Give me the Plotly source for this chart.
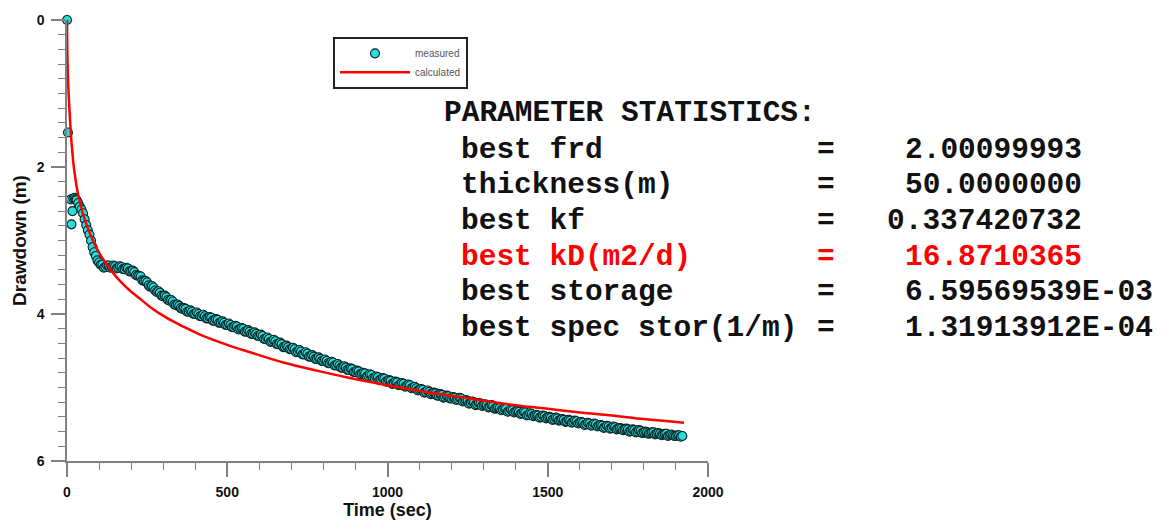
import plotly.graph_objects as go

# ---------------- data ----------------
meas_time = [0, 3, 12, 14, 17, 20, 24, 27,
    30, 40, 50, 60, 70, 80, 90, 100,
    110, 120, 130, 140, 150, 160, 170, 180, 190, 200,
    210, 220, 230, 240, 250, 260, 270, 280, 290, 300,
    310, 320, 330, 340, 350, 360, 370, 380, 390, 400,
    410, 420, 430, 440, 450, 460, 470, 480, 490, 500,
    510, 520, 530, 540, 550, 560, 570, 580, 590, 600,
    610, 620, 630, 640, 650, 660, 670, 680, 690, 700,
    710, 720, 730, 740, 750, 760, 770, 780, 790, 800,
    810, 820, 830, 840, 850, 860, 870, 880, 890, 900,
    910, 920, 930, 940, 950, 960, 970, 980, 990, 1000,
    1010, 1020, 1030, 1040, 1050, 1060, 1070, 1080, 1090, 1100,
    1110, 1120, 1130, 1140, 1150, 1160, 1170, 1180, 1190, 1200,
    1210, 1220, 1230, 1240, 1250, 1260, 1270, 1280, 1290, 1300,
    1310, 1320, 1330, 1340, 1350, 1360, 1370, 1380, 1390, 1400,
    1410, 1420, 1430, 1440, 1450, 1460, 1470, 1480, 1490, 1500,
    1510, 1520, 1530, 1540, 1550, 1560, 1570, 1580, 1590, 1600,
    1610, 1620, 1630, 1640, 1650, 1660, 1670, 1680, 1690, 1700,
    1710, 1720, 1730, 1740, 1750, 1760, 1770, 1780, 1790, 1800,
    1810, 1820, 1830, 1840, 1850, 1860, 1870, 1880, 1890, 1900,
    1910, 1920]
meas_drawdown = [0.00, 1.53, 2.44, 2.78, 2.60, 2.43, 2.42, 2.44,
    2.45, 2.54, 2.63, 2.79, 2.92, 3.09, 3.21, 3.30,
    3.33, 3.36, 3.34, 3.36, 3.35, 3.37, 3.36, 3.39, 3.38, 3.42,
    3.43, 3.48, 3.49, 3.55, 3.57, 3.63, 3.64, 3.70, 3.71, 3.76,
    3.77, 3.82, 3.83, 3.88, 3.89, 3.93, 3.93, 3.97, 3.97, 4.00,
    4.00, 4.03, 4.03, 4.06, 4.05, 4.09, 4.08, 4.12, 4.12, 4.15,
    4.15, 4.18, 4.17, 4.20, 4.20, 4.24, 4.24, 4.27, 4.27, 4.30,
    4.30, 4.34, 4.34, 4.37, 4.37, 4.41, 4.41, 4.45, 4.45, 4.48,
    4.48, 4.51, 4.51, 4.55, 4.54, 4.58, 4.58, 4.61, 4.61, 4.64,
    4.64, 4.67, 4.66, 4.70, 4.70, 4.73, 4.73, 4.76, 4.75, 4.79,
    4.78, 4.81, 4.81, 4.84, 4.83, 4.87, 4.86, 4.89, 4.88, 4.92,
    4.91, 4.94, 4.93, 4.96, 4.95, 4.98, 4.97, 5.00, 5.01, 5.03,
    5.03, 5.06, 5.06, 5.08, 5.08, 5.11, 5.10, 5.13, 5.12, 5.15,
    5.14, 5.16, 5.15, 5.18, 5.18, 5.21, 5.20, 5.23, 5.22, 5.24,
    5.24, 5.26, 5.25, 5.28, 5.28, 5.30, 5.29, 5.32, 5.31, 5.33,
    5.33, 5.35, 5.34, 5.37, 5.36, 5.38, 5.38, 5.40, 5.39, 5.41,
    5.41, 5.43, 5.42, 5.44, 5.44, 5.46, 5.45, 5.47, 5.46, 5.48,
    5.48, 5.50, 5.49, 5.51, 5.50, 5.52, 5.52, 5.54, 5.53, 5.55,
    5.54, 5.56, 5.56, 5.57, 5.57, 5.59, 5.58, 5.60, 5.59, 5.61,
    5.61, 5.62, 5.61, 5.63, 5.63, 5.64, 5.63, 5.65, 5.65, 5.66,
    5.65, 5.66]

# intermediate readings (between the 10-s samples)
meas_time_mid = [35, 45, 55, 65, 75, 85, 95,
    105, 115, 125, 135, 145, 155, 165, 175, 185, 195,
    205, 215, 225, 235, 245, 255, 265, 275, 285, 295,
    305, 315, 325, 335, 345, 355, 365, 375, 385, 395,
    405, 415, 425, 435, 445, 455, 465, 475, 485, 495,
    505, 515, 525, 535, 545, 555, 565, 575, 585, 595,
    605, 615, 625, 635, 645, 655, 665, 675, 685, 695,
    705, 715, 725, 735, 745, 755, 765, 775, 785, 795,
    805, 815, 825, 835, 845, 855, 865, 875, 885, 895,
    905, 915, 925, 935, 945, 955, 965, 975, 985, 995,
    1005, 1015, 1025, 1035, 1045, 1055, 1065, 1075, 1085, 1095,
    1105, 1115, 1125, 1135, 1145, 1155, 1165, 1175, 1185, 1195,
    1205, 1215, 1225, 1235, 1245, 1255, 1265, 1275, 1285, 1295,
    1305, 1315, 1325, 1335, 1345, 1355, 1365, 1375, 1385, 1395,
    1405, 1415, 1425, 1435, 1445, 1455, 1465, 1475, 1485, 1495,
    1505, 1515, 1525, 1535, 1545, 1555, 1565, 1575, 1585, 1595,
    1605, 1615, 1625, 1635, 1645, 1655, 1665, 1675, 1685, 1695,
    1705, 1715, 1725, 1735, 1745, 1755, 1765, 1775, 1785, 1795,
    1805, 1815, 1825, 1835, 1845, 1855, 1865, 1875, 1885, 1895,
    1905, 1915]
meas_drawdown_mid = [2.49, 2.58, 2.71, 2.86, 3.00, 3.16, 3.27,
    3.33, 3.37, 3.34, 3.37, 3.34, 3.38, 3.35, 3.39, 3.37, 3.42,
    3.41, 3.47, 3.48, 3.54, 3.55, 3.61, 3.62, 3.68, 3.69, 3.75,
    3.75, 3.81, 3.81, 3.87, 3.87, 3.92, 3.92, 3.97, 3.95, 4.00,
    3.98, 4.03, 4.01, 4.06, 4.04, 4.09, 4.07, 4.12, 4.10, 4.15,
    4.13, 4.18, 4.16, 4.21, 4.19, 4.24, 4.22, 4.27, 4.25, 4.30,
    4.28, 4.34, 4.32, 4.38, 4.35, 4.41, 4.39, 4.45, 4.43, 4.48,
    4.46, 4.52, 4.49, 4.55, 4.52, 4.58, 4.56, 4.61, 4.59, 4.64,
    4.62, 4.67, 4.65, 4.70, 4.68, 4.73, 4.71, 4.76, 4.74, 4.79,
    4.77, 4.82, 4.80, 4.85, 4.82, 4.87, 4.85, 4.90, 4.87, 4.92,
    4.90, 4.95, 4.92, 4.97, 4.94, 4.99, 4.96, 5.01, 4.99, 5.04,
    5.02, 5.07, 5.04, 5.09, 5.07, 5.11, 5.09, 5.14, 5.11, 5.15,
    5.13, 5.17, 5.14, 5.19, 5.17, 5.22, 5.19, 5.24, 5.21, 5.25,
    5.23, 5.27, 5.24, 5.29, 5.27, 5.31, 5.28, 5.33, 5.30, 5.34,
    5.32, 5.36, 5.33, 5.38, 5.35, 5.39, 5.37, 5.41, 5.38, 5.42,
    5.40, 5.44, 5.41, 5.45, 5.43, 5.47, 5.44, 5.48, 5.45, 5.49,
    5.47, 5.51, 5.48, 5.52, 5.49, 5.53, 5.51, 5.55, 5.52, 5.56,
    5.53, 5.57, 5.55, 5.58, 5.56, 5.60, 5.57, 5.61, 5.58, 5.62,
    5.60, 5.63, 5.61, 5.64, 5.62, 5.65, 5.63, 5.66, 5.64, 5.66,
    5.65, 5.67]

calc_time = [0, 0.5, 1, 2, 3, 5, 8, 11, 14, 18, 21, 27, 34, 42, 50, 60, 71, 85,
             102, 120, 140, 165, 196, 227, 258, 310, 362, 415, 500, 571,
             675, 779, 883, 988, 1092, 1196, 1300, 1400, 1500, 1602, 1700,
             1800, 1925]
calc_drawdown = [0.00, 0.25, 0.42, 0.64, 0.78, 1.00, 1.25, 1.47, 1.66, 1.86, 1.99,
                 2.18, 2.36, 2.51, 2.64, 2.77, 2.90, 3.04, 3.18, 3.30, 3.42, 3.55,
                 3.68, 3.79, 3.90, 4.05, 4.17, 4.28, 4.42, 4.52, 4.66, 4.77, 4.87,
                 4.96, 5.04, 5.11, 5.18, 5.24, 5.29, 5.34, 5.38, 5.43, 5.48]

x_tickvals = [0, 500, 1000, 1500, 2000]
y_tickvals = [0, 2, 4, 6]

stat_title = "PARAMETER STATISTICS:"
stat_labels = ["best frd", "thickness(m)", "best kf", "best kD(m2/d)",
               "best storage", "best spec stor(1/m)"]
stat_values = ["2.00099993", "50.0000000", "0.337420732", "16.8710365",
               "6.59569539E-03", "1.31913912E-04"]
stat_highlight = [False, False, False, True, False, False]

# ---------------- layout geometry (pixels) ----------------
W, H = 1164, 528
ML, MT = 67, 19
PW, PH = 641, 445
MR = W - ML - PW
MB = H - MT - PH


def px_x(px):
    return (px - ML) / PW


def px_y(py):
    return 1 - (py - MT) / PH


all_time = meas_time[:8] + [v for pair in zip(meas_time[8:], meas_time_mid + [None]) for v in pair if v is not None]
all_draw = meas_drawdown[:8] + [v for pair in zip(meas_drawdown[8:], meas_drawdown_mid + [None]) for v in pair if v is not None]

fig = go.Figure()
fig.add_trace(go.Scatter(
    x=all_time, y=all_draw, mode="markers", name="measured", cliponaxis=False,
    marker=dict(size=9, color="#22e0e0", line=dict(color="#0a2222", width=1.1)),
))
fig.add_trace(go.Scatter(
    x=calc_time, y=calc_drawdown, mode="lines", name="calculated", cliponaxis=False,
    line=dict(color="#ff0000", width=2.5, shape="spline", smoothing=1.0),
))

axis_col = "#808080"
tick_font = dict(family="Liberation Sans", size=14, color="#111111")

fig.update_xaxes(
    range=[0, 2000], tickvals=x_tickvals, ticktext=[f"<b>{v}</b>" for v in x_tickvals],
    showline=True, linecolor=axis_col, linewidth=1.5,
    ticks="outside", ticklen=14, tickwidth=1.5, tickcolor=axis_col,
    minor=dict(dtick=100, ticks="outside", ticklen=7, tickwidth=1.2, tickcolor=axis_col, showgrid=False),
    showgrid=False, zeroline=False, tickfont=tick_font, ticklabelstandoff=3,
    title=dict(text="<b>Time (sec)</b>", font=dict(family="Liberation Sans", size=18, color="#111111"),
               standoff=4),
)
fig.update_yaxes(
    range=[6, 0], tickvals=y_tickvals, ticktext=[f"<b>{v}</b>" for v in y_tickvals],
    showline=True, linecolor=axis_col, linewidth=1.5,
    ticks="outside", ticklen=14, tickwidth=1.5, tickcolor=axis_col,
    minor=dict(dtick=0.2, ticks="outside", ticklen=7, tickwidth=1.2, tickcolor=axis_col, showgrid=False),
    showgrid=False, zeroline=False, tickfont=tick_font, ticklabelstandoff=4,
    title=dict(text="<b>Drawdown (m)</b>", font=dict(family="Liberation Sans", size=19, color="#111111"),
               standoff=5),
)

mono = "Liberation Mono"
fsize = 29.5
row_y = [150, 186, 222, 258, 293, 330]
annotations = [dict(
    text=f"<b>{stat_title}</b>", x=px_x(442), y=px_y(113), xref="paper", yref="paper",
    xanchor="left", yanchor="middle", showarrow=False,
    font=dict(family=mono, size=fsize, color="#111111"),
)]
for lab, val, hi, py in zip(stat_labels, stat_values, stat_highlight, row_y):
    col = "#ff0000" if hi else "#111111"
    f = dict(family=mono, size=fsize, color=col)
    annotations.append(dict(text=f"<b>{lab}</b>", x=px_x(459), y=px_y(py), xref="paper", yref="paper",
                            xanchor="left", yanchor="middle", showarrow=False, font=f))
    annotations.append(dict(text="<b>=</b>", x=px_x(826), y=px_y(py), xref="paper", yref="paper",
                            xanchor="center", yanchor="middle", showarrow=False, font=f))
    vx = 903 if len(val) != 11 else 885
    annotations.append(dict(text=f"<b>{val}</b>", x=px_x(vx), y=px_y(py), xref="paper", yref="paper",
                            xanchor="left", yanchor="middle", showarrow=False, font=f))

fig.update_layout(
    width=W, height=H, autosize=False,
    margin=dict(l=ML, r=MR, t=MT, b=MB, pad=0),
    paper_bgcolor="white", plot_bgcolor="white",
    showlegend=True,
    legend=dict(
        x=px_x(333), y=px_y(36), xanchor="left", yanchor="top",
        bordercolor="#222222", borderwidth=2, bgcolor="white",
        font=dict(family="Liberation Sans", size=10, color="#555555"),
        itemwidth=70, tracegroupgap=0,
    ),
    annotations=annotations,
)

fig.write_html("out.html")
